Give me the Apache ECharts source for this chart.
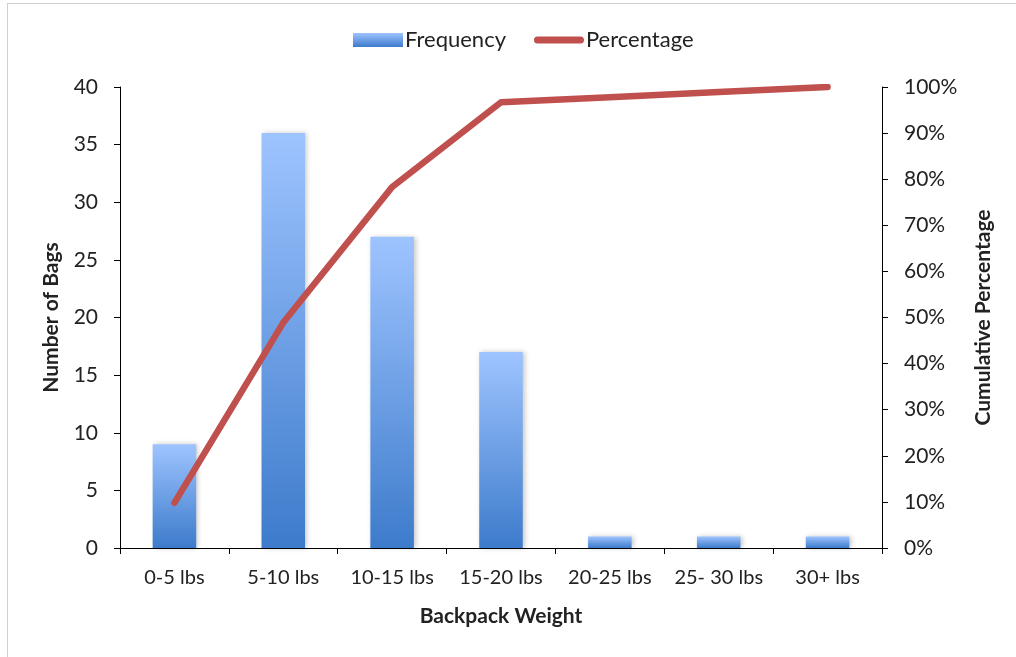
<!DOCTYPE html>
<html>
<head>
<meta charset="utf-8">
<script src="https://cdn.jsdelivr.net/npm/echarts@6/dist/echarts.min.js"></script>
<style>
  html, body { margin: 0; padding: 0; background: #fff; overflow: hidden; }
  #frame { position: absolute; left: 7px; top: 3px; width: 1100px; height: 700px;
           border-left: 1px solid #d0d0d0; border-top: 1px solid #d0d0d0; }
  #chart { position: absolute; left: 0; top: 0; width: 1016px; height: 657px; }
</style>
</head>
<body>
<div id="frame"></div>
<div id="chart"></div>
<script>
// Backpack weight distribution (frequency + cumulative percentage)
const categories = ['0-5 lbs', '5-10 lbs', '10-15 lbs', '15-20 lbs', '20-25 lbs', '25- 30 lbs', '30+ lbs'];
const frequency = [9, 36, 27, 17, 1, 1, 1];
const cumulativePct = [9.8, 48.9, 78.3, 96.7, 97.8, 98.9, 100];

const font = 'Lato, "Open Sans", sans-serif';
const textColor = '#222';

// thick rounded stroke for the line legend entry (empty moveTo points keep the 50x14 box)
const lineIcon = 'path://M0,0 M50,14 M3.5,3.5 L46.5,3.5 A3.5,3.5 0 0 1 46.5,10.5 L3.5,10.5 A3.5,3.5 0 0 1 3.5,3.5 Z';

const chart = echarts.init(document.getElementById('chart'), null, { renderer: 'canvas' });
chart.setOption({
  animation: false,
  backgroundColor: 'transparent',
  legend: {
    top: 24,
    left: 348,
    itemGap: 28,
    itemWidth: 50,
    itemHeight: 14,
    textStyle: { fontFamily: font, fontSize: 22, color: textColor, padding: [0, 0, 0, -3] },
    data: [
      { name: 'Frequency', icon: 'rect' },
      { name: 'Percentage', icon: lineIcon }
    ]
  },
  grid: { left: 120, right: 134, top: 87, bottom: 109, containLabel: false },
  xAxis: {
    type: 'category',
    data: categories,
    boundaryGap: true,
    name: 'Backpack Weight',
    nameLocation: 'middle',
    nameGap: 58,
    nameTextStyle: { fontFamily: font, fontSize: 21, fontWeight: 'bold', color: textColor },
    axisLine: { lineStyle: { color: '#000', width: 1 } },
    axisTick: { show: true, alignWithLabel: false, length: 6, lineStyle: { color: '#000' } },
    axisLabel: { fontFamily: font, fontSize: 20, color: textColor, margin: 20, interval: 0 }
  },
  yAxis: [
    {
      type: 'value',
      min: 0, max: 40, interval: 5,
      name: 'Number of Bags',
      nameLocation: 'middle',
      nameGap: 58,
      nameTextStyle: { fontFamily: font, fontSize: 21, fontWeight: 'bold', color: textColor },
      axisLine: { show: true, lineStyle: { color: '#000', width: 1 } },
      axisTick: { show: true, length: 6, lineStyle: { color: '#000' } },
      axisLabel: { fontFamily: font, fontSize: 21, color: textColor, margin: 22 },
      splitLine: { show: false }
    },
    {
      type: 'value',
      min: 0, max: 100, interval: 10,
      name: 'Cumulative Percentage',
      nameLocation: 'middle',
      nameGap: 91,
      nameRotate: 90,
      nameTextStyle: { fontFamily: font, fontSize: 21, fontWeight: 'bold', color: textColor },
      axisLine: { show: true, lineStyle: { color: '#000', width: 1 } },
      axisTick: { show: true, length: 6, lineStyle: { color: '#000' } },
      axisLabel: { fontFamily: font, fontSize: 21, color: textColor, margin: 22, formatter: '{value}%' },
      splitLine: { show: false }
    }
  ],
  series: [
    {
      name: 'Frequency',
      type: 'bar',
      yAxisIndex: 0,
      data: frequency,
      barWidth: '40%',
      itemStyle: {
        color: new echarts.graphic.LinearGradient(0, 0, 0, 1, [
          { offset: 0, color: '#9ec4ff' },
          { offset: 1, color: '#3d7bcb' }
        ]),
        shadowColor: 'rgba(0,0,0,0.22)',
        shadowBlur: 5,
        shadowOffsetX: 2,
        shadowOffsetY: 0
      }
    },
    {
      name: 'Percentage',
      type: 'line',
      yAxisIndex: 1,
      data: cumulativePct,
      symbol: 'none',
      lineStyle: { color: '#c0504d', width: 6.5, cap: 'round', join: 'round' },
      itemStyle: { color: '#c0504d' },
      z: 5
    }
  ]
});
</script>
</body>
</html>
